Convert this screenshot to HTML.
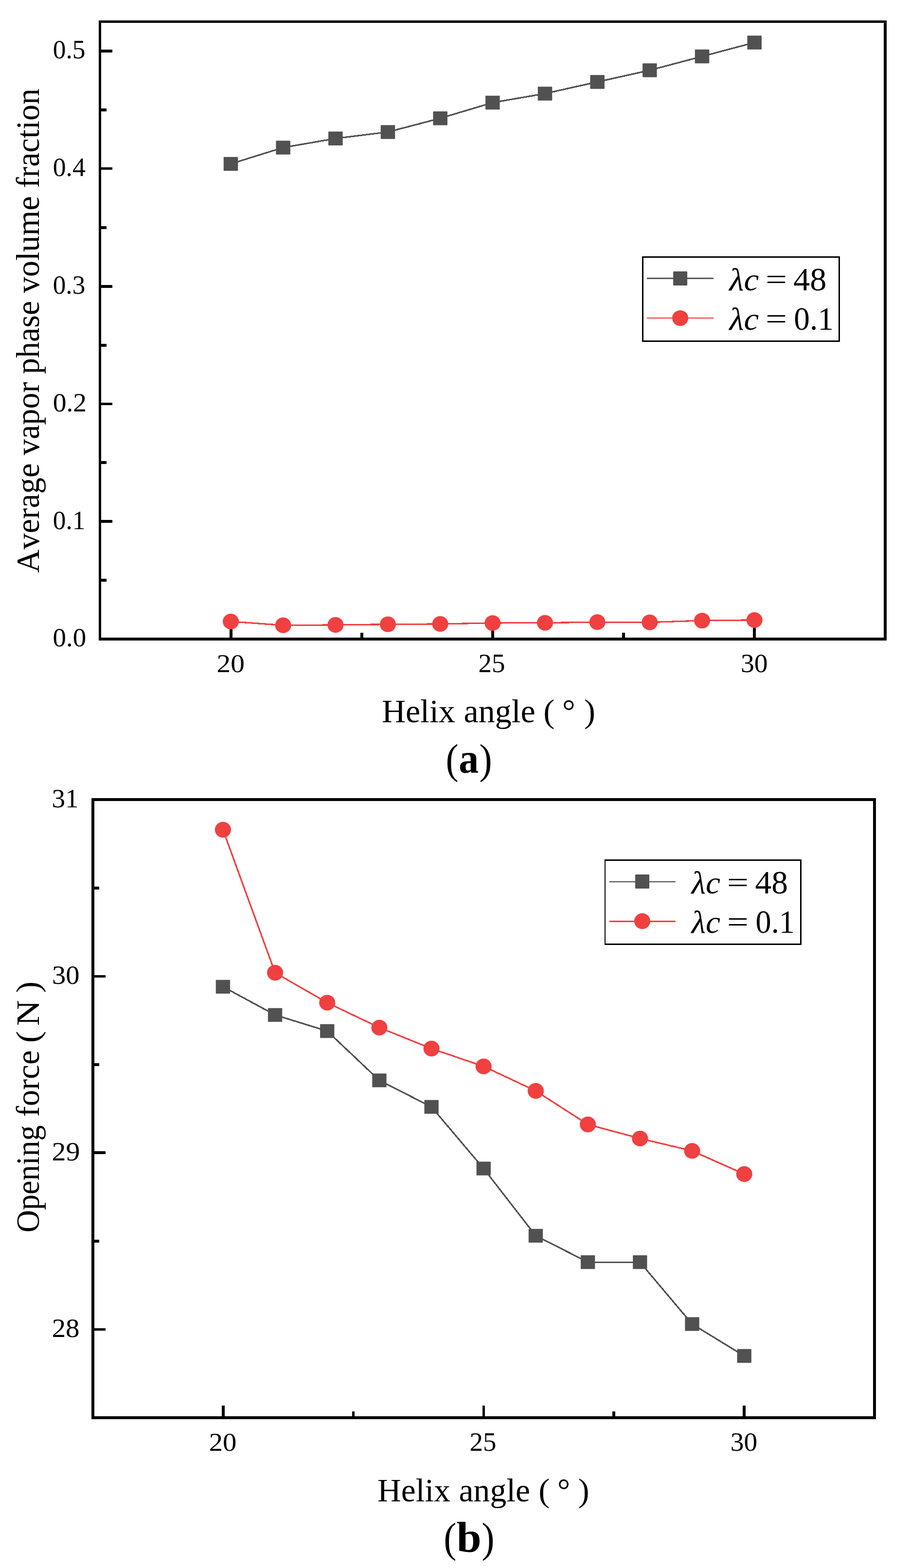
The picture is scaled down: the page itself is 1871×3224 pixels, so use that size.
<!DOCTYPE html>
<html lang="en">
<head>
<meta charset="utf-8">
<title>Helix angle charts</title>
<style>
html,body{margin:0;padding:0;background:#fff;}
body{width:1871px;height:3224px;overflow:hidden;}
svg{display:block;}
svg text{font-family:"Liberation Serif","DejaVu Serif",serif;fill:#000;font-kerning:none;font-variant-ligatures:none;white-space:pre;}
</style>
</head>
<body>
<svg width="1871" height="3224" viewBox="0 0 1871 3224">
<rect x="0" y="0" width="1871" height="3224" fill="#fff"/>
<g id="chart-a">
<g shape-rendering="crispEdges">
<rect x="203" y="42" width="5" height="1275" fill="#000"/>
<rect x="1817" y="42" width="6" height="1275" fill="#000"/>
<rect x="203" y="42" width="1620" height="5" fill="#000"/>
<rect x="203" y="1311" width="1620" height="6" fill="#000"/>
</g>
<g shape-rendering="crispEdges">
<rect x="207" y="102.2" width="24" height="5.6" fill="#000"/>
<rect x="207" y="223.1" width="12" height="5.6" fill="#000"/>
<rect x="207" y="343.7" width="24" height="5.6" fill="#000"/>
<rect x="207" y="464.9" width="12" height="5.6" fill="#000"/>
<rect x="207" y="586.2" width="24" height="5.6" fill="#000"/>
<rect x="207" y="707" width="12" height="5.6" fill="#000"/>
<rect x="207" y="827.7" width="24" height="5.6" fill="#000"/>
<rect x="207" y="948.4" width="12" height="5.6" fill="#000"/>
<rect x="207" y="1069.2" width="24" height="5.6" fill="#000"/>
<rect x="207" y="1190.2" width="12" height="5.6" fill="#000"/>
<rect x="472.3" y="1289" width="5.6" height="23" fill="#000"/>
<rect x="741.3" y="1301" width="5.6" height="11" fill="#000"/>
<rect x="1010.25" y="1289" width="5.6" height="23" fill="#000"/>
<rect x="1279.2" y="1301" width="5.6" height="11" fill="#000"/>
<rect x="1548.2" y="1289" width="5.6" height="23" fill="#000"/>
</g>
<polyline shape-rendering="crispEdges" fill="none" stroke="#515151" stroke-width="3.2" stroke-linejoin="round" points="474.5,336.9 582.17,303.4 689.84,284.8 797.51,271.4 905.18,243.2 1012.85,211 1120.52,192.4 1228.19,168.4 1335.86,144.5 1443.53,116 1551.2,87.4"/>
<rect x="459.75" y="322.65" width="29.5" height="28.5" rx="1" fill="#515151"/>
<rect x="567.42" y="289.15" width="29.5" height="28.5" rx="1" fill="#515151"/>
<rect x="675.09" y="270.55" width="29.5" height="28.5" rx="1" fill="#515151"/>
<rect x="782.76" y="257.15" width="29.5" height="28.5" rx="1" fill="#515151"/>
<rect x="890.43" y="228.95" width="29.5" height="28.5" rx="1" fill="#515151"/>
<rect x="998.1" y="196.75" width="29.5" height="28.5" rx="1" fill="#515151"/>
<rect x="1105.77" y="178.15" width="29.5" height="28.5" rx="1" fill="#515151"/>
<rect x="1213.44" y="154.15" width="29.5" height="28.5" rx="1" fill="#515151"/>
<rect x="1321.11" y="130.25" width="29.5" height="28.5" rx="1" fill="#515151"/>
<rect x="1428.78" y="101.75" width="29.5" height="28.5" rx="1" fill="#515151"/>
<rect x="1536.45" y="73.15" width="29.5" height="28.5" rx="1" fill="#515151"/>
<polyline shape-rendering="crispEdges" fill="none" stroke="#F14040" stroke-width="3.2" stroke-linejoin="round" points="474.5,1277.8 582.17,1285.7 689.84,1284.9 797.51,1283.7 905.18,1282.9 1012.85,1281 1120.52,1280.5 1228.19,1279.2 1335.86,1279.6 1443.53,1276 1551.2,1274.8"/>
<ellipse cx="474.5" cy="1277.8" rx="16.5" ry="16.1" fill="#F14040"/>
<ellipse cx="582.17" cy="1285.7" rx="16.5" ry="16.1" fill="#F14040"/>
<ellipse cx="689.84" cy="1284.9" rx="16.5" ry="16.1" fill="#F14040"/>
<ellipse cx="797.51" cy="1283.7" rx="16.5" ry="16.1" fill="#F14040"/>
<ellipse cx="905.18" cy="1282.9" rx="16.5" ry="16.1" fill="#F14040"/>
<ellipse cx="1012.85" cy="1281" rx="16.5" ry="16.1" fill="#F14040"/>
<ellipse cx="1120.52" cy="1280.5" rx="16.5" ry="16.1" fill="#F14040"/>
<ellipse cx="1228.19" cy="1279.2" rx="16.5" ry="16.1" fill="#F14040"/>
<ellipse cx="1335.86" cy="1279.6" rx="16.5" ry="16.1" fill="#F14040"/>
<ellipse cx="1443.53" cy="1276" rx="16.5" ry="16.1" fill="#F14040"/>
<ellipse cx="1551.2" cy="1274.8" rx="16.5" ry="16.1" fill="#F14040"/>
<text><tspan x="108.66" y="120.29" font-size="55.02" textLength="66.93" lengthAdjust="spacingAndGlyphs">0.5</tspan></text>
<text><tspan x="108.75" y="362.13" font-size="54.33" textLength="67.19" lengthAdjust="spacingAndGlyphs">0.4</tspan></text>
<text><tspan x="108.77" y="604.32" font-size="54.77" textLength="66.5" lengthAdjust="spacingAndGlyphs">0.3</tspan></text>
<text><tspan x="108.68" y="845.98" font-size="54.4" textLength="69.48" lengthAdjust="spacingAndGlyphs">0.2</tspan></text>
<text><tspan x="108.77" y="1088.22" font-size="54.92" textLength="66.74" lengthAdjust="spacingAndGlyphs">0.1</tspan></text>
<text><tspan x="108.61" y="1328.84" font-size="53.89" textLength="68.69" lengthAdjust="spacingAndGlyphs">0.0</tspan></text>
<text><tspan x="445.58" y="1381.58" font-size="53.5" textLength="57.3" lengthAdjust="spacingAndGlyphs">20</tspan></text>
<text><tspan x="983.48" y="1381.87" font-size="54.33" textLength="54.96" lengthAdjust="spacingAndGlyphs">25</tspan></text>
<text><tspan x="1522.94" y="1381.87" font-size="54.31" textLength="55.58" lengthAdjust="spacingAndGlyphs">30</tspan></text>
<text><tspan x="784.94" y="1485.1" font-size="66.7" textLength="150.89" lengthAdjust="spacingAndGlyphs">Helix</tspan> <tspan x="953.61" y="1485.1" font-size="66.7" textLength="147.14" lengthAdjust="spacingAndGlyphs">angle</tspan> <tspan x="1117.15" y="1485.1" font-size="66.7" textLength="23.08" lengthAdjust="spacingAndGlyphs">(</tspan> <tspan x="1156" y="1485.1" font-size="66.7" textLength="26.77" lengthAdjust="spacingAndGlyphs">°</tspan> <tspan x="1201.07" y="1485.1" font-size="66.7" textLength="23.08" lengthAdjust="spacingAndGlyphs">)</tspan></text>
<text transform="translate(80 0) rotate(-90)"><tspan x="-1177.75" y="0" font-size="68.03" textLength="225.26" lengthAdjust="spacingAndGlyphs">Average</tspan> <tspan x="-936.1" y="0" font-size="68.03" textLength="150.58" lengthAdjust="spacingAndGlyphs">vapor</tspan> <tspan x="-769.17" y="0" font-size="68.03" textLength="150.66" lengthAdjust="spacingAndGlyphs">phase</tspan> <tspan x="-602.5" y="0" font-size="68.03" textLength="199.2" lengthAdjust="spacingAndGlyphs">volume</tspan> <tspan x="-386.62" y="0" font-size="68.03" textLength="204.42" lengthAdjust="spacingAndGlyphs">fraction</tspan></text>
<text><tspan x="916.44" y="1589.69" font-size="86.02" textLength="26.19" lengthAdjust="spacingAndGlyphs">(</tspan><tspan x="943.36" y="1589.36" font-size="86.01" textLength="40.98" lengthAdjust="spacingAndGlyphs" font-weight="bold">a</tspan><tspan x="985.57" y="1589.69" font-size="86.02" textLength="26.19" lengthAdjust="spacingAndGlyphs">)</tspan></text>
<g shape-rendering="crispEdges">
<rect x="1320" y="527" width="407" height="176" fill="#fff"/>
<rect x="1320" y="527" width="3" height="176" fill="#000"/>
<rect x="1724" y="527" width="3" height="176" fill="#000"/>
<rect x="1320" y="527" width="407" height="3" fill="#000"/>
<rect x="1320" y="700" width="407" height="3" fill="#000"/>
</g>
<rect x="1330" y="570.9" width="137.1" height="2.9" fill="#515151"/>
<rect x="1384.1" y="558" width="29" height="29" rx="1.5" fill="#515151"/>
<rect x="1330" y="652.85" width="137.1" height="2.2" fill="#F14040"/>
<ellipse cx="1398.6" cy="654" rx="16.5" ry="16.1" fill="#F14040"/>
<text><tspan x="1499.64" y="597.26" font-size="65.84" textLength="60.61" lengthAdjust="spacingAndGlyphs" font-style="italic">λc</tspan> <tspan x="1573.9" y="593.64" font-size="59.6" textLength="44.12" lengthAdjust="spacingAndGlyphs">=</tspan> <tspan x="1631.37" y="597.23" font-size="68.17" textLength="68.02" lengthAdjust="spacingAndGlyphs">48</tspan></text>
<text><tspan x="1499.64" y="678.46" font-size="65.84" textLength="60.61" lengthAdjust="spacingAndGlyphs" font-style="italic">λc</tspan> <tspan x="1573.9" y="674.84" font-size="59.6" textLength="44.12" lengthAdjust="spacingAndGlyphs">=</tspan> <tspan x="1632.21" y="678.14" font-size="67.73" textLength="81.72" lengthAdjust="spacingAndGlyphs">0.1</tspan></text>
</g>
<g id="chart-b">
<g shape-rendering="crispEdges">
<rect x="188" y="1641" width="6" height="1277" fill="#000"/>
<rect x="1795" y="1641" width="6" height="1277" fill="#000"/>
<rect x="188" y="1641" width="1613" height="6" fill="#000"/>
<rect x="188" y="2912" width="1613" height="6" fill="#000"/>
</g>
<g shape-rendering="crispEdges">
<rect x="193" y="2730.7" width="24" height="5.6" fill="#000"/>
<rect x="193" y="2549" width="11" height="5.6" fill="#000"/>
<rect x="193" y="2367.3" width="24" height="5.6" fill="#000"/>
<rect x="193" y="2186.1" width="11" height="5.6" fill="#000"/>
<rect x="193" y="2004.8" width="24" height="5.6" fill="#000"/>
<rect x="193" y="1823.2" width="11" height="5.6" fill="#000"/>
<rect x="456.3" y="2890" width="5.6" height="23" fill="#000"/>
<rect x="723.6" y="2902" width="5.6" height="11" fill="#000"/>
<rect x="991.6" y="2890" width="5.6" height="23" fill="#000"/>
<rect x="1259.2" y="2902" width="5.6" height="11" fill="#000"/>
<rect x="1527.4" y="2890" width="5.6" height="23" fill="#000"/>
</g>
<polyline shape-rendering="crispEdges" fill="none" stroke="#515151" stroke-width="3.2" stroke-linejoin="round" points="458.4,2028.8 565.58,2086.8 672.76,2120 779.94,2221.4 887.12,2275.9 994.3,2402.7 1101.48,2540.8 1208.66,2595.1 1315.84,2595.1 1423.02,2722.4 1530.2,2788"/>
<rect x="443.75" y="2014.65" width="29.3" height="28.3" rx="0.8" fill="#515151"/>
<rect x="550.93" y="2072.65" width="29.3" height="28.3" rx="0.8" fill="#515151"/>
<rect x="658.11" y="2105.85" width="29.3" height="28.3" rx="0.8" fill="#515151"/>
<rect x="765.29" y="2207.25" width="29.3" height="28.3" rx="0.8" fill="#515151"/>
<rect x="872.47" y="2261.75" width="29.3" height="28.3" rx="0.8" fill="#515151"/>
<rect x="979.65" y="2388.55" width="29.3" height="28.3" rx="0.8" fill="#515151"/>
<rect x="1086.83" y="2526.65" width="29.3" height="28.3" rx="0.8" fill="#515151"/>
<rect x="1194.01" y="2580.95" width="29.3" height="28.3" rx="0.8" fill="#515151"/>
<rect x="1301.19" y="2580.95" width="29.3" height="28.3" rx="0.8" fill="#515151"/>
<rect x="1408.37" y="2708.25" width="29.3" height="28.3" rx="0.8" fill="#515151"/>
<rect x="1515.55" y="2773.85" width="29.3" height="28.3" rx="0.8" fill="#515151"/>
<polyline shape-rendering="crispEdges" fill="none" stroke="#F14040" stroke-width="3.2" stroke-linejoin="round" points="458.4,1706 565.58,2000 672.76,2061.6 779.94,2112.8 887.12,2156 994.3,2192.6 1101.48,2243 1208.66,2312 1315.84,2340.8 1423.02,2366.3 1530.2,2414"/>
<ellipse cx="458.4" cy="1706" rx="16.55" ry="16.15" fill="#F14040"/>
<ellipse cx="565.58" cy="2000" rx="16.55" ry="16.15" fill="#F14040"/>
<ellipse cx="672.76" cy="2061.6" rx="16.55" ry="16.15" fill="#F14040"/>
<ellipse cx="779.94" cy="2112.8" rx="16.55" ry="16.15" fill="#F14040"/>
<ellipse cx="887.12" cy="2156" rx="16.55" ry="16.15" fill="#F14040"/>
<ellipse cx="994.3" cy="2192.6" rx="16.55" ry="16.15" fill="#F14040"/>
<ellipse cx="1101.48" cy="2243" rx="16.55" ry="16.15" fill="#F14040"/>
<ellipse cx="1208.66" cy="2312" rx="16.55" ry="16.15" fill="#F14040"/>
<ellipse cx="1315.84" cy="2340.8" rx="16.55" ry="16.15" fill="#F14040"/>
<ellipse cx="1423.02" cy="2366.3" rx="16.55" ry="16.15" fill="#F14040"/>
<ellipse cx="1530.2" cy="2414" rx="16.55" ry="16.15" fill="#F14040"/>
<text><tspan x="106.56" y="1659.91" font-size="55" textLength="55.15" lengthAdjust="spacingAndGlyphs">31</tspan></text>
<text><tspan x="107" y="2022.97" font-size="54.39" textLength="56.51" lengthAdjust="spacingAndGlyphs">30</tspan></text>
<text><tspan x="106.6" y="2385.97" font-size="54.62" textLength="57.98" lengthAdjust="spacingAndGlyphs">29</tspan></text>
<text><tspan x="106.65" y="2749.16" font-size="54.98" textLength="56.86" lengthAdjust="spacingAndGlyphs">28</tspan></text>
<text><tspan x="429.81" y="2982.58" font-size="53.05" textLength="56.65" lengthAdjust="spacingAndGlyphs">20</tspan></text>
<text><tspan x="965.44" y="2982.97" font-size="54.03" textLength="54.91" lengthAdjust="spacingAndGlyphs">25</tspan></text>
<text><tspan x="1501.75" y="2982.87" font-size="54.09" textLength="55.36" lengthAdjust="spacingAndGlyphs">30</tspan></text>
<text><tspan x="776.12" y="3087.1" font-size="66.7" textLength="149.91" lengthAdjust="spacingAndGlyphs">Helix</tspan> <tspan x="943.62" y="3087.1" font-size="66.7" textLength="146.32" lengthAdjust="spacingAndGlyphs">angle</tspan> <tspan x="1107.15" y="3087.1" font-size="66.7" textLength="23.08" lengthAdjust="spacingAndGlyphs">(</tspan> <tspan x="1146.06" y="3087.1" font-size="66.7" textLength="26.24" lengthAdjust="spacingAndGlyphs">°</tspan> <tspan x="1188.78" y="3087.1" font-size="66.7" textLength="22.95" lengthAdjust="spacingAndGlyphs">)</tspan></text>
<text transform="translate(80 0) rotate(-90)"><tspan x="-2534.33" y="0" font-size="68.03" textLength="220.85" lengthAdjust="spacingAndGlyphs">Opening</tspan> <tspan x="-2296.45" y="0" font-size="68.03" textLength="136.96" lengthAdjust="spacingAndGlyphs">force</tspan> <tspan x="-2144.22" y="0" font-size="68.03" textLength="24.38" lengthAdjust="spacingAndGlyphs">(</tspan> <tspan x="-2109.31" y="0" font-size="68.03" textLength="52.89" lengthAdjust="spacingAndGlyphs">N</tspan> <tspan x="-2041.17" y="0" font-size="68.03" textLength="23.47" lengthAdjust="spacingAndGlyphs">)</tspan></text>
<text><tspan x="912.34" y="3190.62" font-size="86.35" textLength="26.19" lengthAdjust="spacingAndGlyphs">(</tspan><tspan x="938.74" y="3191.22" font-size="89.68" textLength="50.98" lengthAdjust="spacingAndGlyphs" font-weight="bold">b</tspan><tspan x="990.25" y="3190.62" font-size="86.35" textLength="26.32" lengthAdjust="spacingAndGlyphs">)</tspan></text>
<g shape-rendering="crispEdges">
<rect x="1243" y="1767" width="405" height="176" fill="#fff"/>
<rect x="1243" y="1767" width="2" height="176" fill="#000"/>
<rect x="1645" y="1767" width="3" height="176" fill="#000"/>
<rect x="1243" y="1767" width="405" height="3" fill="#000"/>
<rect x="1243" y="1940" width="405" height="3" fill="#000"/>
</g>
<rect x="1252.9" y="1811.9" width="136" height="2.2" fill="#515151"/>
<rect x="1306" y="1798" width="29" height="29" rx="1.5" fill="#515151"/>
<rect x="1252.9" y="1892.95" width="136" height="3.1" fill="#F14040"/>
<ellipse cx="1320.5" cy="1894" rx="16.55" ry="16.15" fill="#F14040"/>
<text><tspan x="1421.85" y="1837.26" font-size="65.84" textLength="59.28" lengthAdjust="spacingAndGlyphs" font-style="italic">λc</tspan> <tspan x="1494.88" y="1833.64" font-size="59.6" textLength="44.36" lengthAdjust="spacingAndGlyphs">=</tspan> <tspan x="1552.58" y="1837.23" font-size="68.17" textLength="67.49" lengthAdjust="spacingAndGlyphs">48</tspan></text>
<text><tspan x="1421.85" y="1918.46" font-size="65.84" textLength="59.28" lengthAdjust="spacingAndGlyphs" font-style="italic">λc</tspan> <tspan x="1494.88" y="1914.84" font-size="59.6" textLength="44.36" lengthAdjust="spacingAndGlyphs">=</tspan> <tspan x="1553.55" y="1918.14" font-size="67.73" textLength="80.31" lengthAdjust="spacingAndGlyphs">0.1</tspan></text>
</g>
</svg>
</body>
</html>
